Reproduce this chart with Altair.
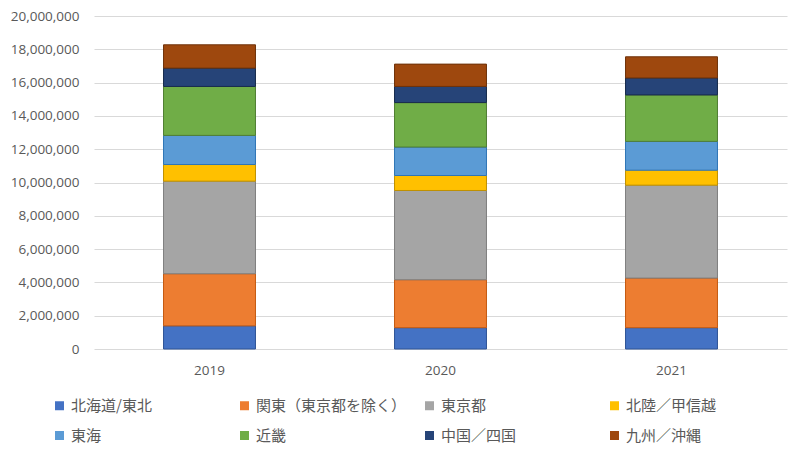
import altair as alt
import pandas as pd

years = ["2019", "2020", "2021"]
regions = ["北海道/東北", "関東（東京都を除く）", "東京都", "北陸／甲信越",
           "東海", "近畿", "中国／四国", "九州／沖縄"]
colors = ["#4472C4", "#ED7D31", "#A5A5A5", "#FFC000",
          "#5B9BD5", "#70AD47", "#264478", "#9E480E"]
strokes = ["#2F5597", "#C55A11", "#7F7F7F", "#BF9000",
           "#2E75B6", "#507E32", "#172B4D", "#6E320A"]

hokkaido_tohoku = [1390000, 1280000, 1280000]
kanto = [3130000, 2880000, 2980000]
tokyo = [5560000, 5360000, 5580000]
hokuriku = [1000000, 900000, 900000]
tokai = [1750000, 1710000, 1730000]
kinki = [2940000, 2670000, 2790000]
chugoku = [1100000, 970000, 1020000]
kyushu = [1400000, 1340000, 1270000]

series = [hokkaido_tohoku, kanto, tokyo, hokuriku, tokai, kinki, chugoku, kyushu]
y_ticks = [0, 2000000, 4000000, 6000000, 8000000, 10000000,
           12000000, 14000000, 16000000, 18000000, 20000000]

rows = []
for i, (r, vals) in enumerate(zip(regions, series)):
    for y, v in zip(years, vals):
        rows.append({"year": y, "region": r, "value": v, "idx": i})
df = pd.DataFrame(rows)

chart = alt.Chart(df).mark_bar(strokeWidth=1).encode(
    x=alt.X("year:N", title=None, sort=years,
            scale=alt.Scale(paddingInner=0.602, paddingOuter=0.301),
            axis=alt.Axis(labelAngle=0, domain=False, ticks=False, grid=False,
                          labelPadding=14, labelFontSize=13.5,
                          labelFont="Open Sans", labelColor="#595959")),
    y=alt.Y("value:Q", title=None, stack="zero",
            scale=alt.Scale(domain=[0, 20000000], nice=False),
            axis=alt.Axis(values=y_ticks, format=",d", domain=False, ticks=False,
                          labelPadding=15, labelFontSize=13.5, labelFont="Open Sans",
                          labelColor="#595959", gridColor="#D9D9D9", gridWidth=1)),
    color=alt.Color("region:N", scale=alt.Scale(domain=regions, range=colors),
                    legend=alt.Legend(title=None, orient="none", legendX=-42, legendY=382,
                                      columns=4, direction="horizontal", gridAlign="all",
                                      columnPadding=15, rowPadding=14,
                                      symbolType="square", symbolSize=81,
                                      symbolStrokeWidth=0, labelOffset=4,
                                      labelFont="Noto Sans CJK JP", labelFontSize=15,
                                      labelColor="#595959", labelLimit=400, padding=0)),
    stroke=alt.Stroke("region:N", scale=alt.Scale(domain=regions, range=strokes),
                      legend=None),
    order=alt.Order("idx:Q", sort="ascending"),
).properties(
    width=693, height=333,
    autosize=alt.AutoSizeParams(type="none"),
    padding={"left": 86, "top": 8, "right": 5, "bottom": 95},
).configure_view(stroke=None)

chart.save("out.html", embed_options={"renderer": "svg", "actions": False})
